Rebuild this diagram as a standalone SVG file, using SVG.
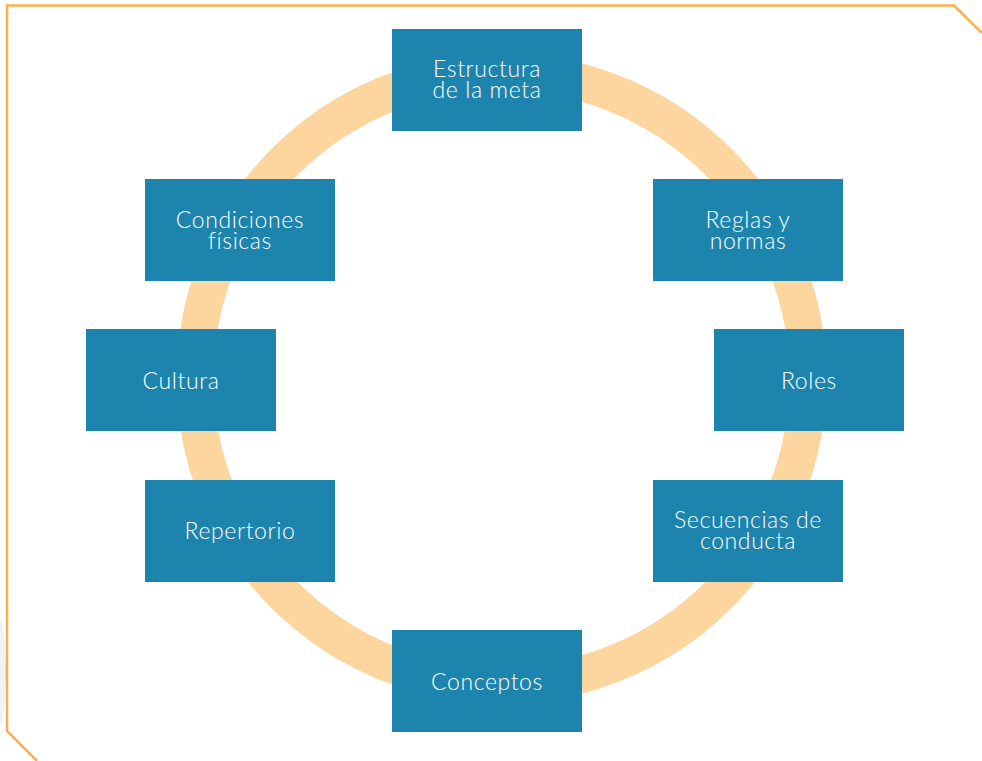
<svg xmlns="http://www.w3.org/2000/svg" width="982" height="761" viewBox="0 0 982 761">
<style>
.box{fill:#1D84AD}
.t{fill:#FFFFFF;font-family:Lato,"Noto Sans","Liberation Sans",sans-serif;font-weight:300;font-size:23px;letter-spacing:0.6px;text-anchor:middle}
</style>
<rect width="982" height="761" fill="#FFFFFF"/>
<ellipse cx="0" cy="672" rx="6" ry="52" fill="#F1F2F6"/>
<path d="M982,33 L954,5.5 L7,5.5 L7,731 L37,761" fill="none" stroke="#FBB04B" stroke-width="2.5"/>
<g id="connectors">
<circle cx="501.5" cy="378.5" r="306.5" fill="none" stroke="#FDD59F" stroke-width="37"/>
</g>
<g id="n-estructura"><rect class="box" x="392" y="29" width="190" height="102"/><text class="t" x="487" y="77">Estructura</text><text class="t" x="487" y="98">de la meta</text></g>
<g id="n-reglas"><rect class="box" x="653" y="179" width="190" height="102"/><text class="t" x="748" y="228">Reglas y</text><text class="t" x="748" y="249">normas</text></g>
<g id="n-roles"><rect class="box" x="714" y="329" width="190" height="102"/><text class="t" x="809" y="388.5">Roles</text></g>
<g id="n-secuencias"><rect class="box" x="653" y="480" width="190" height="102"/><text class="t" x="748" y="527.5">Secuencias de</text><text class="t" x="748" y="549">conducta</text></g>
<g id="n-conceptos"><rect class="box" x="392" y="630" width="190" height="102"/><text class="t" x="487" y="690">Conceptos</text></g>
<g id="n-repertorio"><rect class="box" x="145" y="480" width="190" height="102"/><text class="t" x="240" y="539">Repertorio</text></g>
<g id="n-cultura"><rect class="box" x="86" y="329" width="190" height="102"/><text class="t" x="181" y="388.5">Cultura</text></g>
<g id="n-condiciones"><rect class="box" x="145" y="179" width="190" height="102"/><text class="t" x="240" y="228">Condiciones</text><text class="t" x="240" y="249">físicas</text></g>
</svg>
